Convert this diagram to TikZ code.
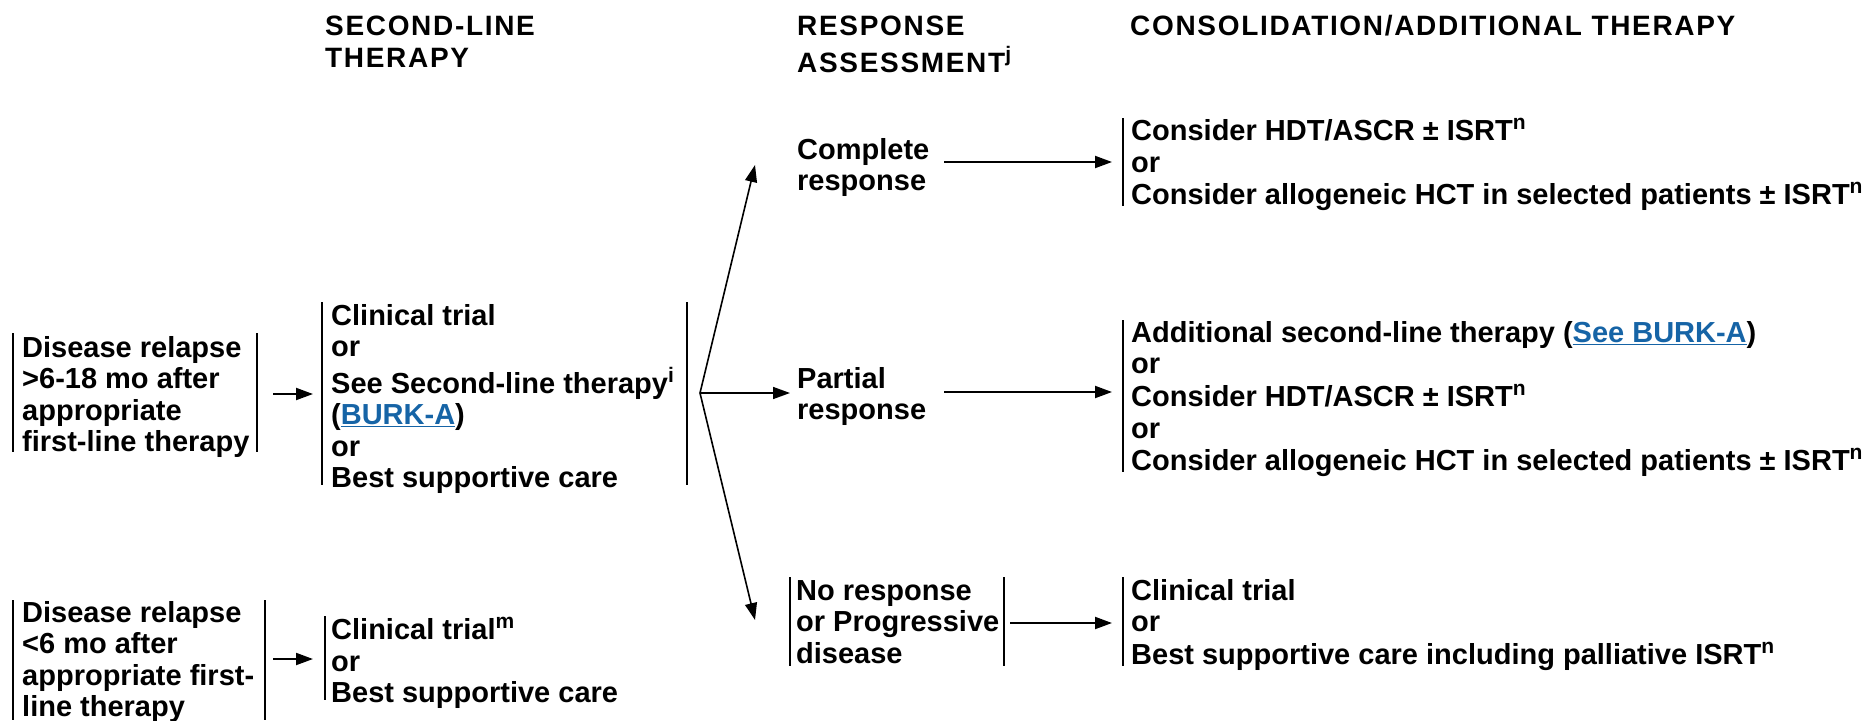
\documentclass[tikz,border=0pt]{standalone}
\usepackage{fontspec}
\setmainfont{Liberation Sans}
\usetikzlibrary{arrows.meta}
\definecolor{linkblue}{RGB}{22,100,166}
\newcommand\sps[1]{\raisebox{11pt}{\fontsize{21}{21}\selectfont #1}}
\newcommand\lnk[1]{\textcolor{linkblue}{\underline{#1}}}
\tikzset{
  txt/.style={anchor=north west, inner sep=0pt, align=left, font=\fontsize{29}{31.5}\selectfont\bfseries},
  hdr/.style={anchor=north west, inner sep=0pt, align=left, font=\fontsize{28}{32}\selectfont\bfseries\addfontfeatures{LetterSpace=6}},
  bar/.style={line width=2pt},
  arr/.style={line width=2pt, -{Triangle[length=17pt,width=12pt]}},
  br/.style={line width=1.6pt, -{Triangle[length=17pt,width=12pt]}}
}
\begin{document}
\begin{tikzpicture}[x=1pt,y=-1pt]
\useasboundingbox (0,0) rectangle (1873,720);
% headers
\node[hdr] (h1) at (325,12.6) {\strut SECOND-LINE\\\strut THERAPY};
\node[hdr] (h2) at (797,12.6) {\strut RESPONSE\\\strut ASSESSMENT\sps{j}};
\node[hdr] (h3) at (1130,12.6) {\strut CONSOLIDATION/ADDITIONAL THERAPY};
% box 1
\node[txt] (b1) at (22,335) {\strut Disease relapse\\\strut >6-18 mo after\\\strut appropriate\\\strut first-line therapy};
\draw[bar] (13,333) -- (13,452) (257,333) -- (257,452);
% box 2
\node[txt] (b2) at (331,303) {\strut Clinical trial\\\strut or\\\strut See Second-line therapy\sps{i}\\\strut (\lnk{BURK-A})\\\strut or\\\strut Best supportive care};
\draw[bar] (322,302) -- (322,485) (687,302) -- (687,485);
\coordinate (a1s) at (273,394);
\coordinate (a1e) at (313,394);
\draw[arr] (a1s) -- (a1e);
% branch
\coordinate (bv) at (700,393);
\coordinate (cT) at (755,165);
\coordinate (pT) at (790,393);
\coordinate (nT) at (755,620);
\draw[br] (bv) -- (cT);
\draw[br] (bv) -- (pT);
\draw[br] (bv) -- (nT);
% complete
\node[txt] (cr) at (797,137) {\strut Complete\\\strut response};
\coordinate (cs) at (944,162);
\coordinate (ce) at (1112,162);
\draw[arr] (cs) -- (ce);
\node[txt] (crb) at (1131,118) {\strut Consider HDT/ASCR ± ISRT\sps{n}\\\strut or\\\strut Consider allogeneic HCT in selected patients ± ISRT\sps{n}};
\draw[bar] (1123,118) -- (1123,206);
% partial
\node[txt] (pr) at (797,366) {\strut Partial\\\strut response};
\coordinate (ps) at (944,392);
\coordinate (pe) at (1112,392);
\draw[arr] (ps) -- (pe);
\node[txt] (prb) at (1131,320) {\strut Additional second-line therapy (\lnk{See BURK-A})\\\strut or\\\strut Consider HDT/ASCR ± ISRT\sps{n}\\\strut or\\\strut Consider allogeneic HCT in selected patients ± ISRT\sps{n}};
\draw[bar] (1123,320) -- (1123,472);
% no response
\node[txt] (nr) at (796,578) {\strut No response\\\strut or Progressive\\\strut disease};
\draw[bar] (790,577) -- (790,666) (1004,577) -- (1004,666);
\coordinate (ns) at (1010,623);
\coordinate (ne) at (1112,623);
\draw[arr] (ns) -- (ne);
\node[txt] (nrb) at (1131,578) {\strut Clinical trial\\\strut or\\\strut Best supportive care including palliative ISRT\sps{n}};
\draw[bar] (1123,577) -- (1123,666);
% bottom-left
\node[txt] (b3) at (22,600) {\strut Disease relapse\\\strut <6 mo after\\\strut appropriate first-\\\strut line therapy};
\draw[bar] (13,600) -- (13,720) (265,600) -- (265,720);
\coordinate (a3s) at (273,659);
\coordinate (a3e) at (313,659);
\draw[arr] (a3s) -- (a3e);
\node[txt] (b4) at (331,617) {\strut Clinical trial\sps{m}\\\strut or\\\strut Best supportive care};
\draw[bar] (325,616) -- (325,700);
\end{tikzpicture}
\end{document}
